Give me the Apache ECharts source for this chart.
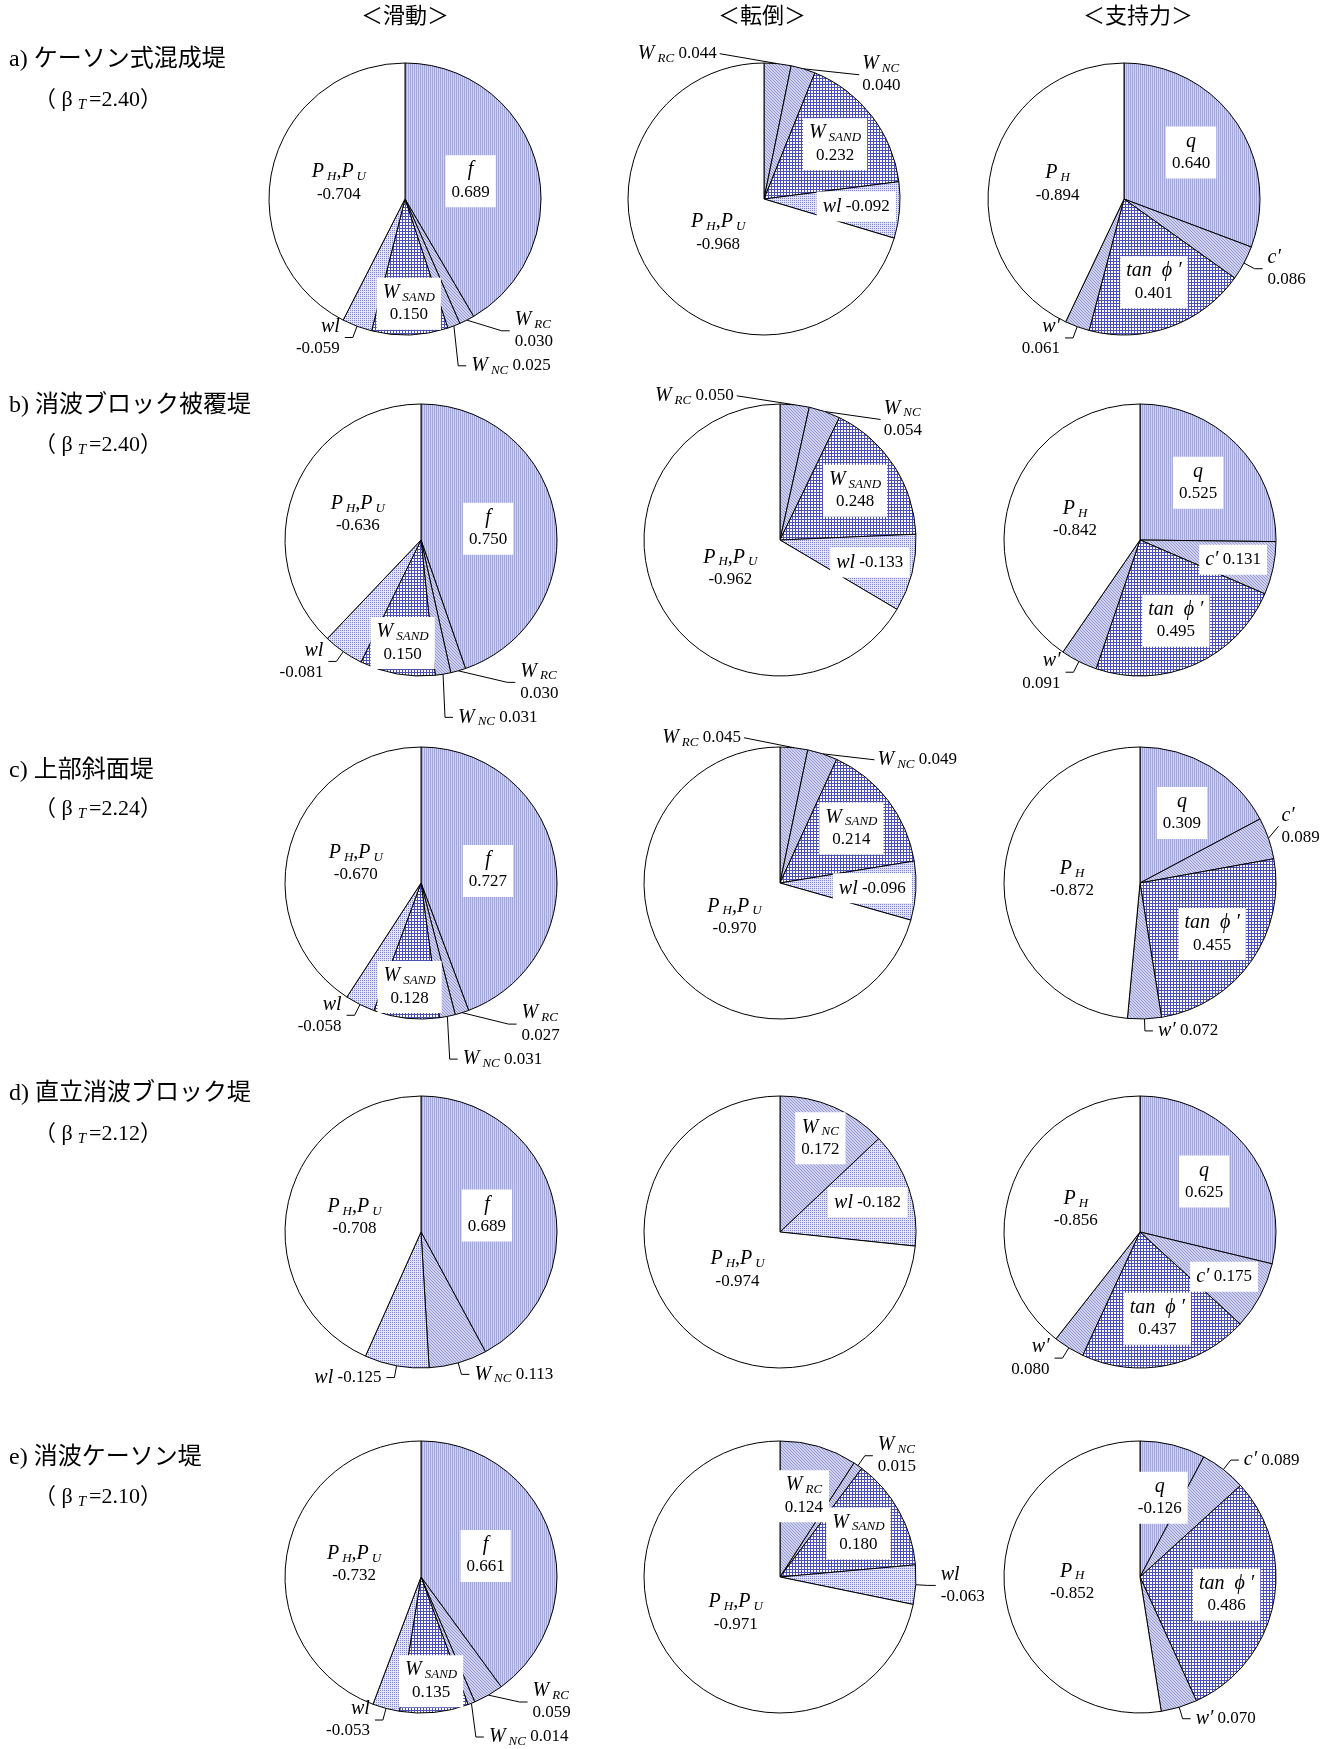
<!DOCTYPE html>
<html>
<head>
<meta charset="utf-8">
<script src="https://cdn.jsdelivr.net/npm/echarts@6/dist/echarts.min.js"></script>
<style>
  html, body { margin: 0; background: #fff; }
  #chart { width: 1327px; height: 1749px; }
</style>
</head>
<body>
<div id="chart"></div>
<script>
// row / column captions
const rowTitles = ['a) ケーソン式混成堤', 'b) 消波ブロック被覆堤', 'c) 上部斜面堤', 'd) 直立消波ブロック堤', 'e) 消波ケーソン堤'];
const betaT = ['2.40', '2.40', '2.24', '2.12', '2.10'];
const columnTitles = ['＜滑動＞', '＜転倒＞', '＜支持力＞'];

// sensitivity coefficients (alpha), rows a-e; null = not present
const slidingKeys = ['f', 'WRC', 'WNC', 'WSAND', 'wl', 'PHPU'];
const slidingA = [0.689, 0.030, 0.025, 0.150, -0.059, -0.704];
const slidingB = [0.750, 0.030, 0.031, 0.150, -0.081, -0.636];
const slidingC = [0.727, 0.027, 0.031, 0.128, -0.058, -0.670];
const slidingD = [0.689, null, 0.113, null, -0.125, -0.708];
const slidingE = [0.661, 0.059, 0.014, 0.135, -0.053, -0.732];

const overturnKeys = ['WRC', 'WNC', 'WSAND', 'wl', 'PHPU'];
const overturnA = [0.044, 0.040, 0.232, -0.092, -0.968];
const overturnB = [0.050, 0.054, 0.248, -0.133, -0.962];
const overturnC = [0.045, 0.049, 0.214, -0.096, -0.970];
const overturnD = [null, 0.172, null, -0.182, -0.974];
const overturnE = [0.124, 0.015, 0.180, -0.063, -0.971];

const bearingKeys = ['q', 'c', 'tan', 'w', 'PH'];
const bearingA = [0.640, 0.086, 0.401, 0.061, -0.894];
const bearingB = [0.525, 0.131, 0.495, 0.091, -0.842];
const bearingC = [0.309, 0.089, 0.455, 0.072, -0.872];
const bearingD = [0.625, 0.175, 0.437, 0.080, -0.856];
const bearingE = [-0.126, 0.089, 0.486, 0.070, -0.852];

// ---- layout / style ----
const SERIF = '"Liberation Serif", "Noto Sans CJK JP", serif';
const pieX = [[405, 764, 1124], [421, 780, 1140], [421, 780, 1140], [421, 780, 1140], [421, 780, 1140]];
const pieY = [199, 540, 883, 1232, 1577];
const pieR = 136;
const headerX = [405, 762, 1138];
const titleY = [[60, 100], [406, 445], [771, 809], [1094, 1134], [1458, 1497]];

// i = inside 2 lines, i1 = inside 1 line, o = outside 2 lines, o1 = outside 1 line
const basePlace = [
  { f: 'i', WRC: 'o', WNC: 'o1', WSAND: 'i', wl: 'o', PHPU: 'i' },
  { WRC: 'o1', WNC: 'o', WSAND: 'i', wl: 'i1', PHPU: 'i' },
  { q: 'i', c: 'o', tan: 'i', w: 'o', PH: 'i' }
];
const placeOverride = [
  [{}, {}, {}, { wl: 'o1' }, {}],
  [{}, {}, { WNC: 'o1' }, { WNC: 'i' }, { WRC: 'i', wl: 'o' }],
  [{}, { c: 'i1' }, { w: 'o1' }, { c: 'i1' }, { c: 'o1', w: 'o1' }]
];
// leader offsets (from the arc) for labels that sit away from their slice
const leaderOffset = [
  [{}, {}, {}, {}, {}],
  [{ WRC: [-58, -10], WNC: [56, 6] }, { WRC: [-58, -9], WNC: [56, 8] }, { WRC: [-50, -10], WNC: [52, 6] }, {}, {}],
  [{}, {}, { c: [10, -12] }, {}, {}]
];
// radius fraction for inside labels
const insideK = [
  { f: 0.5, WSAND: 0.77, PHPU: 0.5 },
  { WRC: 0.62, WNC: 0.75, WSAND: 0.66, wl: 0.68, PHPU: 0.42 },
  { q: 0.6, c: 0.7, tan: 0.65, PH: 0.5 }
];

const nameRich = {
  f: '{n|f}', WRC: '{n|W}{s|RC}', WNC: '{n|W}{s|NC}', WSAND: '{n|W}{s|SAND}',
  wl: '{n|wl}', PHPU: '{n|P}{s|H}{n|,P}{s|U}',
  q: '{n|q}', c: '{n|c′}', tan: '{n|tan  ϕ ′}', w: '{n|w′}', PH: '{n|P}{s|H}'
};
const fillKind = {
  f: 'vlines', q: 'vlines', WRC: 'diag', WNC: 'diag', c: 'diag', w: 'diag',
  wl: 'dots', WSAND: 'grid', tan: 'grid', PHPU: 'white', PH: 'white'
};

function makePattern(kind) {
  if (kind === 'white') return '#ffffff';
  const c = document.createElement('canvas');
  const g = c.getContext('2d');
  if (kind === 'vlines') {
    c.width = 2; c.height = 2;
    g.fillStyle = '#cfd1ee'; g.fillRect(0, 0, 2, 2);
    g.fillStyle = '#a3a7d9'; g.fillRect(0, 0, 1, 2);
  } else if (kind === 'diag') {
    c.width = 3; c.height = 3;
    g.fillStyle = '#d0d2ef'; g.fillRect(0, 0, 3, 3);
    g.fillStyle = '#9397d2';
    g.fillRect(0, 0, 1, 1); g.fillRect(1, 1, 1, 1); g.fillRect(2, 2, 1, 1);
  } else if (kind === 'dots') {
    c.width = 2; c.height = 2;
    g.fillStyle = '#e3e4f5'; g.fillRect(0, 0, 2, 2);
    g.fillStyle = '#8085cb'; g.fillRect(0, 0, 1, 1);
  } else {
    c.width = 3; c.height = 3;
    g.fillStyle = '#ffffff'; g.fillRect(0, 0, 3, 3);
    g.fillStyle = '#4a50b6'; g.fillRect(0, 0, 3, 1); g.fillRect(0, 0, 1, 3);
  }
  return { image: c, repeat: 'repeat' };
}
const patterns = {};
Object.keys(fillKind).forEach(k => { patterns[k] = makePattern(fillKind[k]); });

const richStyles = {
  n: { fontFamily: SERIF, fontStyle: 'italic', fontSize: 20, color: '#000', lineHeight: 22 },
  s: { fontFamily: SERIF, fontStyle: 'italic', fontSize: 13, color: '#000', padding: [9, 0, 0, 3] },
  v: { fontFamily: SERIF, fontSize: 17, color: '#000', lineHeight: 22 }
};

const columns = [
  { keys: slidingKeys, rows: [slidingA, slidingB, slidingC, slidingD, slidingE] },
  { keys: overturnKeys, rows: [overturnA, overturnB, overturnC, overturnD, overturnE] },
  { keys: bearingKeys, rows: [bearingA, bearingB, bearingC, bearingD, bearingE] }
];

const series = [];
columns.forEach((col, ci) => {
  col.rows.forEach((vals, ri) => {
    const cx = pieX[ri][ci], cy = pieY[ri];
    const place = Object.assign({}, basePlace[ci], placeOverride[ci][ri]);
    const offs = leaderOffset[ci][ri];
    const items = [];
    col.keys.forEach((k, i) => { if (vals[i] != null) items.push({ key: k, v: vals[i] }); });
    const total = items.reduce((s, it) => s + Math.abs(it.v), 0);
    let cum = 0;
    items.forEach(it => {
      it.mid = (cum + Math.abs(it.v) / 2) / total * 2 * Math.PI;
      cum += Math.abs(it.v);
      it.place = place[it.key];
      it.inside = it.place[0] === 'i';
      it.off = offs[it.key];
      const sep = it.place.length === 1 ? '\n' : ' ';
      it.text = nameRich[it.key] + sep + '{v|' + it.v.toFixed(3) + '}';
    });
    series.push({
      type: 'pie',
      center: [cx, cy],
      radius: pieR,
      startAngle: 90,
      clockwise: true,
      silent: true,
      animation: false,
      avoidLabelOverlap: true,
      itemStyle: { borderColor: '#000', borderWidth: 1 },
      label: {
        color: '#000', fontFamily: SERIF, fontSize: 17, lineHeight: 22,
        overflow: 'none',
        rich: richStyles,
        formatter: p => items[p.dataIndex].text
      },
      labelLine: { length: 12, length2: 8, lineStyle: { color: '#000', width: 1 } },
      labelLayout: p => {
        const it = items[p.dataIndex];
        const sx = Math.sin(it.mid), cy0 = Math.cos(it.mid);
        if (it.inside) {
          const k = insideK[ci][it.key] || 0.55;
          return { x: cx + k * pieR * sx, y: cy - k * pieR * cy0 };
        }
        if (it.off) {
          const ax = cx + pieR * sx, ay = cy - pieR * cy0;
          const ex = ax + it.off[0], ey = ay + it.off[1];
          const left = it.off[0] < 0;
          return {
            x: ex + (left ? -3 : 3), y: ey,
            align: left ? 'right' : 'left', verticalAlign: 'middle',
            labelLinePoints: [[ax, ay], [ex, ey], [ex, ey]]
          };
        }
        return {};
      },
      data: items.map(it => ({
        name: it.key,
        value: Math.abs(it.v),
        itemStyle: { color: patterns[it.key] },
        label: it.inside
          ? { position: 'inside', backgroundColor: '#fff', padding: [4, 6] }
          : { position: 'outside', backgroundColor: 'transparent', padding: 0 },
        labelLine: { show: !it.inside }
      }))
    });
  });
});

const graphic = [];
columnTitles.forEach((t, i) => {
  graphic.push({
    type: 'text', x: headerX[i], y: 17,
    style: { text: t, fontFamily: SERIF, fontSize: 22, fill: '#000', align: 'center', verticalAlign: 'middle' }
  });
});
rowTitles.forEach((t, i) => {
  graphic.push({
    type: 'text', x: 9, y: titleY[i][0],
    style: { text: t, fontFamily: SERIF, fontSize: 24, fill: '#000', align: 'left', verticalAlign: 'middle' }
  });
  graphic.push({
    type: 'text', x: 34, y: titleY[i][1],
    style: {
      text: '（ β{t|T}=' + betaT[i] + '）',
      fontFamily: SERIF, fontSize: 22, fill: '#000', align: 'left', verticalAlign: 'middle',
      rich: { t: { fontFamily: SERIF, fontStyle: 'italic', fontSize: 15, fill: '#000', padding: [11, 3, 0, 5] } }
    }
  });
});

const chart = echarts.init(document.getElementById('chart'), null, { renderer: 'canvas' });
chart.setOption({
  backgroundColor: '#fff',
  animation: false,
  graphic: graphic,
  series: series
});
</script>
</body>
</html>
